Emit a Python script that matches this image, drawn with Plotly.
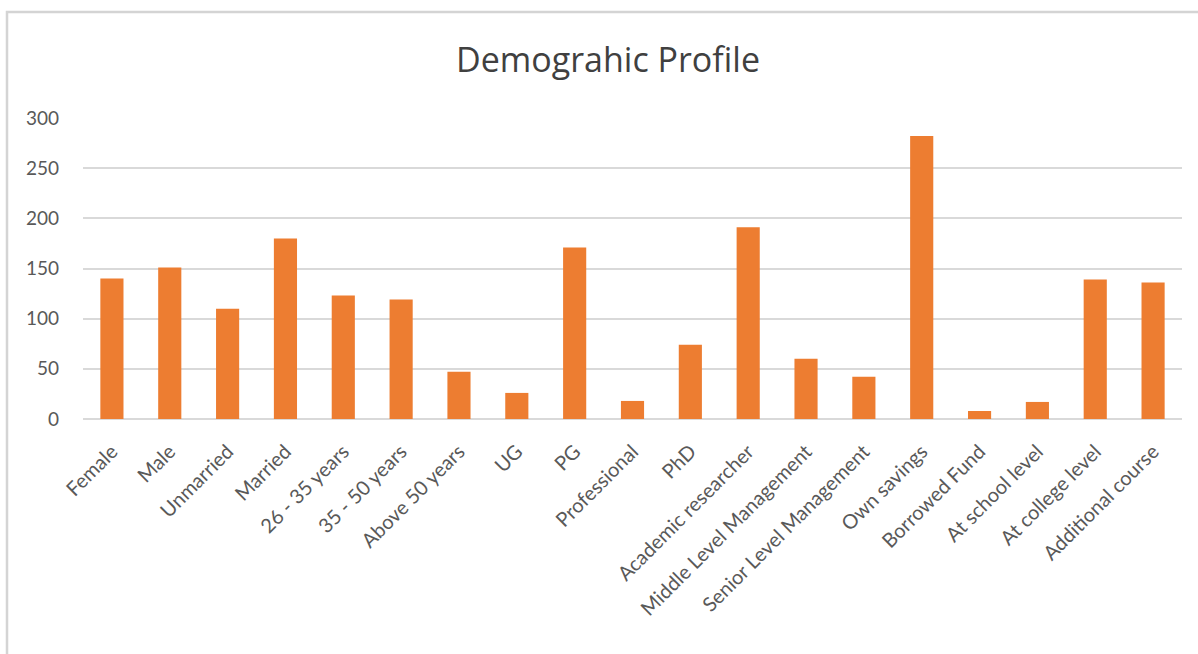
import plotly.graph_objects as go

categories = ["Female", "Male", "Unmarried", "Married", "26 - 35 years", "35 - 50 years",
              "Above 50 years", "UG", "PG", "Professional", "PhD", "Academic researcher",
              "Middle Level Management", "Senior Level Management", "Own savings",
              "Borrowed Fund", "At school level", "At college level", "Additional course"]
values = [140, 151, 110, 180, 123, 119, 47, 26, 171, 18, 74, 191, 60, 42, 282, 8, 17, 139, 136]
y_ticks = [0, 50, 100, 150, 200, 250, 300]

W, H = 1198, 654
L, R, T, B = 83, 16, 118, 235
pw, ph = W - L - R, H - T - B

fig = go.Figure(go.Bar(x=categories, y=values, marker=dict(color="#ED7D31", line=dict(width=0)),
                       width=0.4))


def px2paper_x(px):
    return (px - L) / pw


def px2paper_y(py):
    return (H - B - py) / ph


fig.add_shape(type="rect", xref="paper", yref="paper",
              x0=px2paper_x(7), x1=px2paper_x(1215), y0=px2paper_y(12), y1=px2paper_y(720),
              line=dict(color="#d4d4d4", width=2.5), fillcolor="rgba(0,0,0,0)", layer="below")

fig.update_layout(
    width=W, height=H,
    margin=dict(l=L, r=R, t=T, b=B),
    paper_bgcolor="white", plot_bgcolor="white",
    showlegend=False,
    title=dict(text="Demograhic Profile", x=608 / W, xanchor="center", y=1 - 60 / H, yanchor="middle",
               xref="container", yref="container",
               font=dict(family="Open Sans", size=34, color="#404040")),
    xaxis=dict(tickangle=-45, tickfont=dict(family="Lato", size=20, color="#595959"),
               showgrid=False, showline=False, ticks="", ticklabelstandoff=16),
    yaxis=dict(range=[0, 300], tickvals=y_ticks, tickfont=dict(family="Lato", size=19, color="#595959"),
               showgrid=True, gridcolor="#d9d9d9", gridwidth=1.5, zeroline=True, zerolinecolor="#d9d9d9",
               zerolinewidth=1.5, showline=False, ticks="", ticklabelstandoff=23),
    bargap=0.6,
)

fig.write_html("out.html", config={"displayModeBar": False},
               post_script="document.body.style.margin='0';document.body.style.overflow='hidden';")
